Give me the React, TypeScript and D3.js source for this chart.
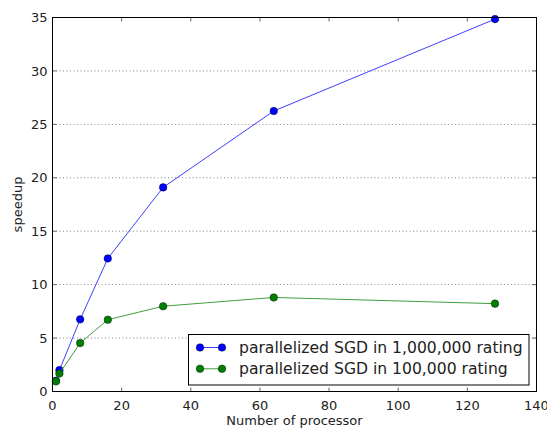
import React from "react";
import * as d3 from "d3";

const processors = [1, 2, 8, 16, 32, 64, 128];
const speedupMillion = [1.0, 2.0, 6.75, 12.45, 19.1, 26.25, 34.85];
const speedupHundredK = [0.95, 1.68, 4.53, 6.72, 7.98, 8.8, 8.22];
const seriesNames = [
  "parallelized SGD in 1,000,000 rating",
  "parallelized SGD in 100,000 rating",
];
const xTicks = [0, 20, 40, 60, 80, 100, 120, 140];
const yTicks = [0, 5, 10, 15, 20, 25, 30, 35];

export default function App() {
  const W = 547, H = 432;
  const left = 52.5, right = 536.5, top = 17.5, bottom = 391.5;
  const x = d3.scaleLinear().domain([0, 140]).range([left, right]);
  const y = d3.scaleLinear().domain([0, 35]).range([bottom, top]);
  const line = d3
    .line<number>()
    .x((_, i) => x(processors[i]))
    .y((d) => y(d));
  const series = [
    { vals: speedupMillion, line: "#3f3fff", fill: "#0000ff", name: seriesNames[0] },
    { vals: speedupHundredK, line: "#3f9f3f", fill: "#007f00", name: seriesNames[1] },
  ];
  const font = "DejaVu Sans, sans-serif";
  return (
    <svg width={W} height={H} style={{ position: "absolute", left: 0, top: 0 }} fontFamily={font}>
      <rect width={W} height={H} fill="#fff" />
      {yTicks.slice(1, -1).map((t) => (
        <line key={"g" + t} x1={left} x2={right} y1={y(t)} y2={y(t)} stroke="#000" strokeWidth={0.6} strokeDasharray="1,2.5" opacity={0.8} />
      ))}
      {series.map((s, si) => (
        <g key={si}>
          <path d={line(s.vals) || ""} fill="none" stroke={s.line} strokeWidth={1} />
          {s.vals.map((v, i) => (
            <circle key={i} cx={x(processors[i])} cy={y(v)} r={3.8} fill={s.fill} stroke="#000" strokeWidth={0.4} />
          ))}
        </g>
      ))}
      {xTicks.map((t) => (
        <g key={"x" + t}>
          <line x1={x(t)} x2={x(t)} y1={bottom} y2={bottom - 4} stroke="#000" strokeWidth={0.6} />
          <line x1={x(t)} x2={x(t)} y1={top} y2={top + 4} stroke="#000" strokeWidth={0.6} />
          <text x={x(t)} y={bottom + 18.5} textAnchor="middle" fontSize={13} fill="#222">{t}</text>
        </g>
      ))}
      {yTicks.map((t) => (
        <g key={"y" + t}>
          <line x1={left} x2={left + 4} y1={y(t)} y2={y(t)} stroke="#000" strokeWidth={0.6} />
          <line x1={right} x2={right - 4} y1={y(t)} y2={y(t)} stroke="#000" strokeWidth={0.6} />
          <text x={left - 5} y={y(t) + 4.7} textAnchor="end" fontSize={13} fill="#222">{t}</text>
        </g>
      ))}
      <rect x={left} y={top} width={right - left} height={bottom - top} fill="none" stroke="#000" strokeWidth={1} />
      <g>
        <rect x={188.5} y={334.5} width={340.5} height={50.5} fill="#fff" stroke="#000" strokeWidth={1} />
        {series.map((s, i) => {
          const cy = 347.5 + i * 21.3;
          return (
            <g key={"l" + i}>
              <line x1={200} x2={222} y1={cy} y2={cy} stroke={s.line} strokeWidth={1} />
              <circle cx={200} cy={cy} r={3.8} fill={s.fill} stroke="#000" strokeWidth={0.4} />
              <circle cx={222} cy={cy} r={3.8} fill={s.fill} stroke="#000" strokeWidth={0.4} />
              <text x={239} y={cy + 5.5} fontSize={15.6} fill="#222">{s.name}</text>
            </g>
          );
        })}
      </g>
      <text x={(left + right) / 2} y={425} textAnchor="middle" fontSize={13} fill="#222">Number of processor</text>
      <text transform={`translate(22,${(top + bottom) / 2}) rotate(-90)`} textAnchor="middle" fontSize={13} fill="#222">speedup</text>
    </svg>
  );
}
